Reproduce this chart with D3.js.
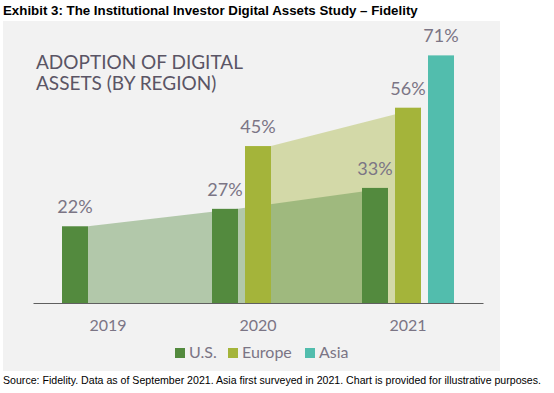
<!DOCTYPE html>
<html>
<head>
<meta charset="utf-8">
<script src="https://cdn.jsdelivr.net/npm/d3@7"></script>
<style>
  body { margin: 0; background: #fff; }
  svg { display: block; }
</style>
</head>
<body>
<svg id="chart" width="554" height="393"></svg>
<script>
// data
var years = ['2019', '2020', '2021'];
var regions = ['U.S.', 'Europe', 'Asia'];
var usValues = [22, 27, 33];
var europeValues = [null, 45, 56];
var asiaValues = [null, null, 71];
var regionColors = ['#538a3e', '#a4b43a', '#52bdad'];

var svg = d3.select('#chart');

svg.append('text')
    .attr('x', 3).attr('y', 15)
    .attr('font-family', 'Liberation Sans, Arial, sans-serif')
    .attr('font-weight', 'bold')
    .attr('font-size', 13.3)
    .attr('fill', '#000')
    .text('Exhibit 3: The Institutional Investor Digital Assets Study \u2013 Fidelity');

svg.append('rect')
    .attr('x', 3).attr('y', 21)
    .attr('width', 497).attr('height', 350)
    .attr('fill', '#f2f2f2');

svg.append('text')
    .attr('x', 3).attr('y', 384)
    .attr('font-family', 'Liberation Sans, Arial, sans-serif')
    .attr('font-size', 10.6)
    .attr('fill', '#000')
    .text('Source: Fidelity. Data as of September 2021. Asia first surveyed in 2021. Chart is provided for illustrative purposes.');

var heading = svg.append('text')
    .attr('font-family', 'Lato, sans-serif')
    .attr('font-size', 19)
    .attr('fill', '#5a5565');
heading.append('tspan').attr('x', 36).attr('y', 69).text('ADOPTION OF DIGITAL');
heading.append('tspan').attr('x', 36).attr('y', 90).text('ASSETS (BY REGION)');

var x0 = d3.scaleBand().domain(years).range([33, 483]);
var x1 = d3.scaleBand().domain(regions).range([29, 121]).paddingInner(7 / 33);
var y = d3.scaleLinear().domain([0, 80]).range([303, 24]);
var color = d3.scaleOrdinal().domain(regions).range(regionColors);

var series = [usValues, europeValues, asiaValues].map(function(vals, i) {
    return {
        region: regions[i],
        points: years.map(function(yr, j) { return {year: yr, value: vals[j]}; })
            .filter(function(d) { return d.value !== null; })
    };
});

// translucent bands joining the bars, Europe underneath
var area = function(region) {
    return d3.area()
        .x(function(d) { return x0(d.year) + x1(region) + x1.bandwidth(); })
        .y0(y(0))
        .y1(function(d) { return y(d.value); });
};
svg.selectAll('.band')
    .data([series[1], series[0]])
    .enter().append('path')
    .attr('class', 'band')
    .attr('d', function(s) { return area(s.region)(s.points); })
    .attr('fill', function(s) { return color(s.region); })
    .attr('fill-opacity', 0.4);

var bars = [];
series.forEach(function(s) {
    s.points.forEach(function(p) { bars.push({region: s.region, year: p.year, value: p.value}); });
});

svg.selectAll('.bar')
    .data(bars)
    .enter().append('rect')
    .attr('class', 'bar')
    .attr('x', function(d) { return x0(d.year) + x1(d.region); })
    .attr('y', function(d) { return y(d.value); })
    .attr('width', x1.bandwidth())
    .attr('height', function(d) { return y(0) - y(d.value); })
    .attr('fill', function(d) { return color(d.region); });

svg.selectAll('.val')
    .data(bars)
    .enter().append('text')
    .attr('class', 'val')
    .attr('x', function(d) { return x0(d.year) + x1(d.region) + x1.bandwidth() / 2; })
    .attr('y', function(d) { return y(d.value) - 13; })
    .attr('text-anchor', 'middle')
    .attr('font-family', 'Lato, sans-serif')
    .attr('font-size', 18)
    .attr('fill', '#7b7585')
    .text(function(d) { return d.value + '%'; });

var axis = svg.append('g')
    .attr('transform', 'translate(0,' + y(0) + ')')
    .call(d3.axisBottom(x0).tickSize(0).tickSizeOuter(0).tickPadding(17));
axis.select('.domain').attr('stroke', '#606060').attr('stroke-width', 1.2);
axis.selectAll('text')
    .attr('font-family', 'Lato, sans-serif')
    .attr('font-size', 16)
    .attr('fill', '#7b7585');

var legendX = [175, 228, 305];
var legend = svg.selectAll('.legend')
    .data(regions)
    .enter().append('g')
    .attr('class', 'legend')
    .attr('transform', function(d, i) { return 'translate(' + legendX[i] + ',348)'; });
legend.append('rect')
    .attr('width', 10).attr('height', 10)
    .attr('fill', function(d) { return color(d); });
legend.append('text')
    .attr('x', 14).attr('y', 10)
    .attr('font-family', 'Lato, sans-serif')
    .attr('font-size', 16)
    .attr('fill', '#7b7585')
    .text(function(d) { return d; });
</script>
</body>
</html>
